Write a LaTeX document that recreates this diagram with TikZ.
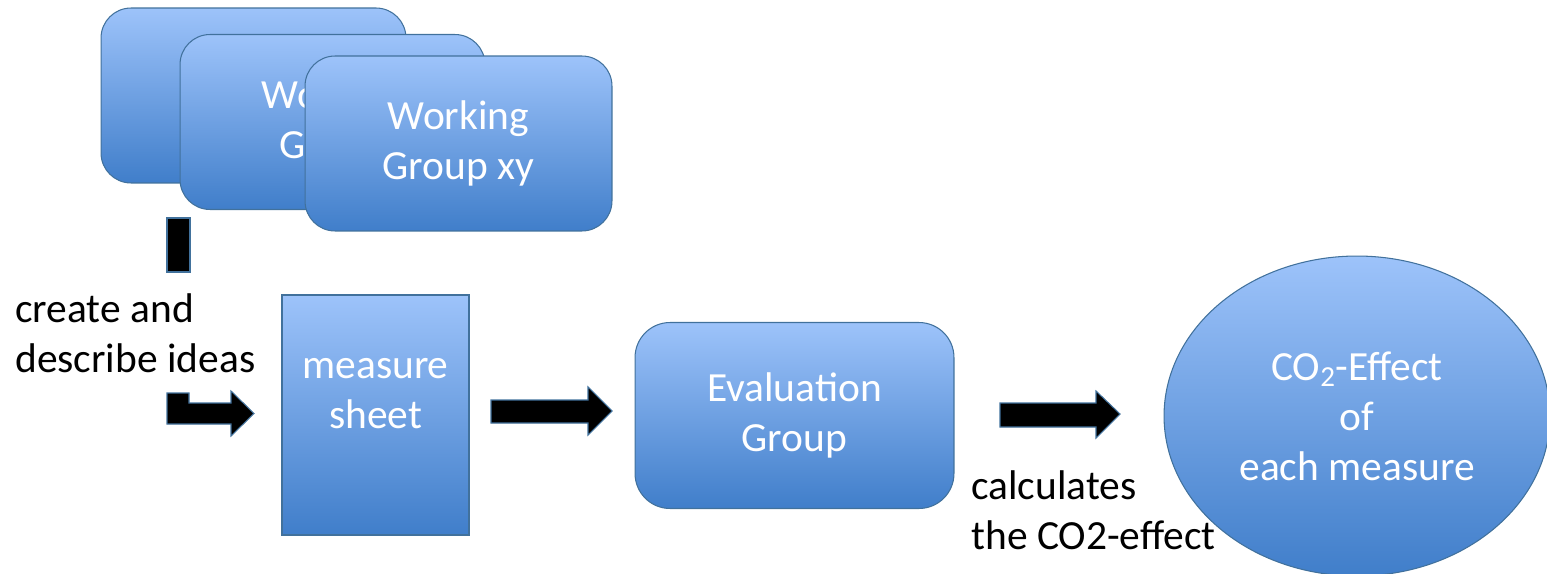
\documentclass[tikz,border=0pt]{standalone}
\usepackage{fontspec}
\setmainfont{Carlito}
\usepackage{xcolor}
\usetikzlibrary{shapes.geometric}
\definecolor{shadetop}{RGB}{157,195,250}
\definecolor{shademid}{RGB}{126,171,236}
\definecolor{shadebot}{RGB}{64,126,202}
\definecolor{edgeblue}{RGB}{65,113,156}

\tikzset{
    bigfont/.style={font=\fontsize{23.6}{28.4}\selectfont},
    blob/.style={draw=edgeblue, line width=0.6pt, top color=shadetop, middle color=shademid,
        bottom color=shadebot, text=white, align=center, bigfont},
    wgbox/.style={blob, rounded corners=0.6cm, minimum width=6.1cm, minimum height=3.5cm},
    blockarrow/.style={fill=black, draw=edgeblue, line width=0.6pt},
    note/.style={align=left, inner sep=0pt, bigfont}
}

\begin{document}
\begin{tikzpicture}[x=0.02cm, y=-0.02cm]
    \useasboundingbox (0,0) rectangle (1547,574);

    % Stacked working groups
    \node[wgbox] (wg1) at (253.5,95.5) {};
    \node[wgbox] (wg2) at (332.5,122) {Working\\Group};
    \node[wgbox, minimum width=6.14cm] (wg3) at (458.5,143.5) {Working\\Group xy};

    % Measure sheet
    \node[blob, minimum width=3.74cm, minimum height=4.8cm,
        label={[yshift=0.42cm, text=white, align=center, bigfont]center:measure\\sheet}] (sheet) at (375.5,415) {};

    % Evaluation group
    \node[blob, rounded corners=0.7cm, minimum width=6.38cm, minimum height=3.72cm] (eval) at (794.5,415.5)
        {Evaluation\\Group};

    % Result
    \node[blob, ellipse, inner sep=0pt, minimum width=7.72cm, minimum height=6.4cm] (effect) at (1357,416)
        {CO\textsubscript{2}-Effect\\of\\each measure};

    % Block arrows
    \filldraw[blockarrow] (167,218) rectangle (190,272);
    \filldraw[blockarrow] (167,393) -- (189,393) -- (189,403) -- (231,403) -- (231,391)
        -- (254,413.5) -- (231,436) -- (231,424) -- (167,424) -- cycle;
    \filldraw[blockarrow] (491,400) -- (588,400) -- (588,387) -- (612,411)
        -- (588,435) -- (588,423) -- (491,423) -- cycle;
    \filldraw[blockarrow] (1000,403) -- (1096,403) -- (1096,391) -- (1120,414)
        -- (1096,438) -- (1096,427) -- (1000,427) -- cycle;

    % Labels
    \node[note, anchor=west] (create) at (15,333) {create and\\describe ideas};
    \node[note, anchor=west] (calc) at (971,510) {calculates\\the CO2-effect};
\end{tikzpicture}
\end{document}
